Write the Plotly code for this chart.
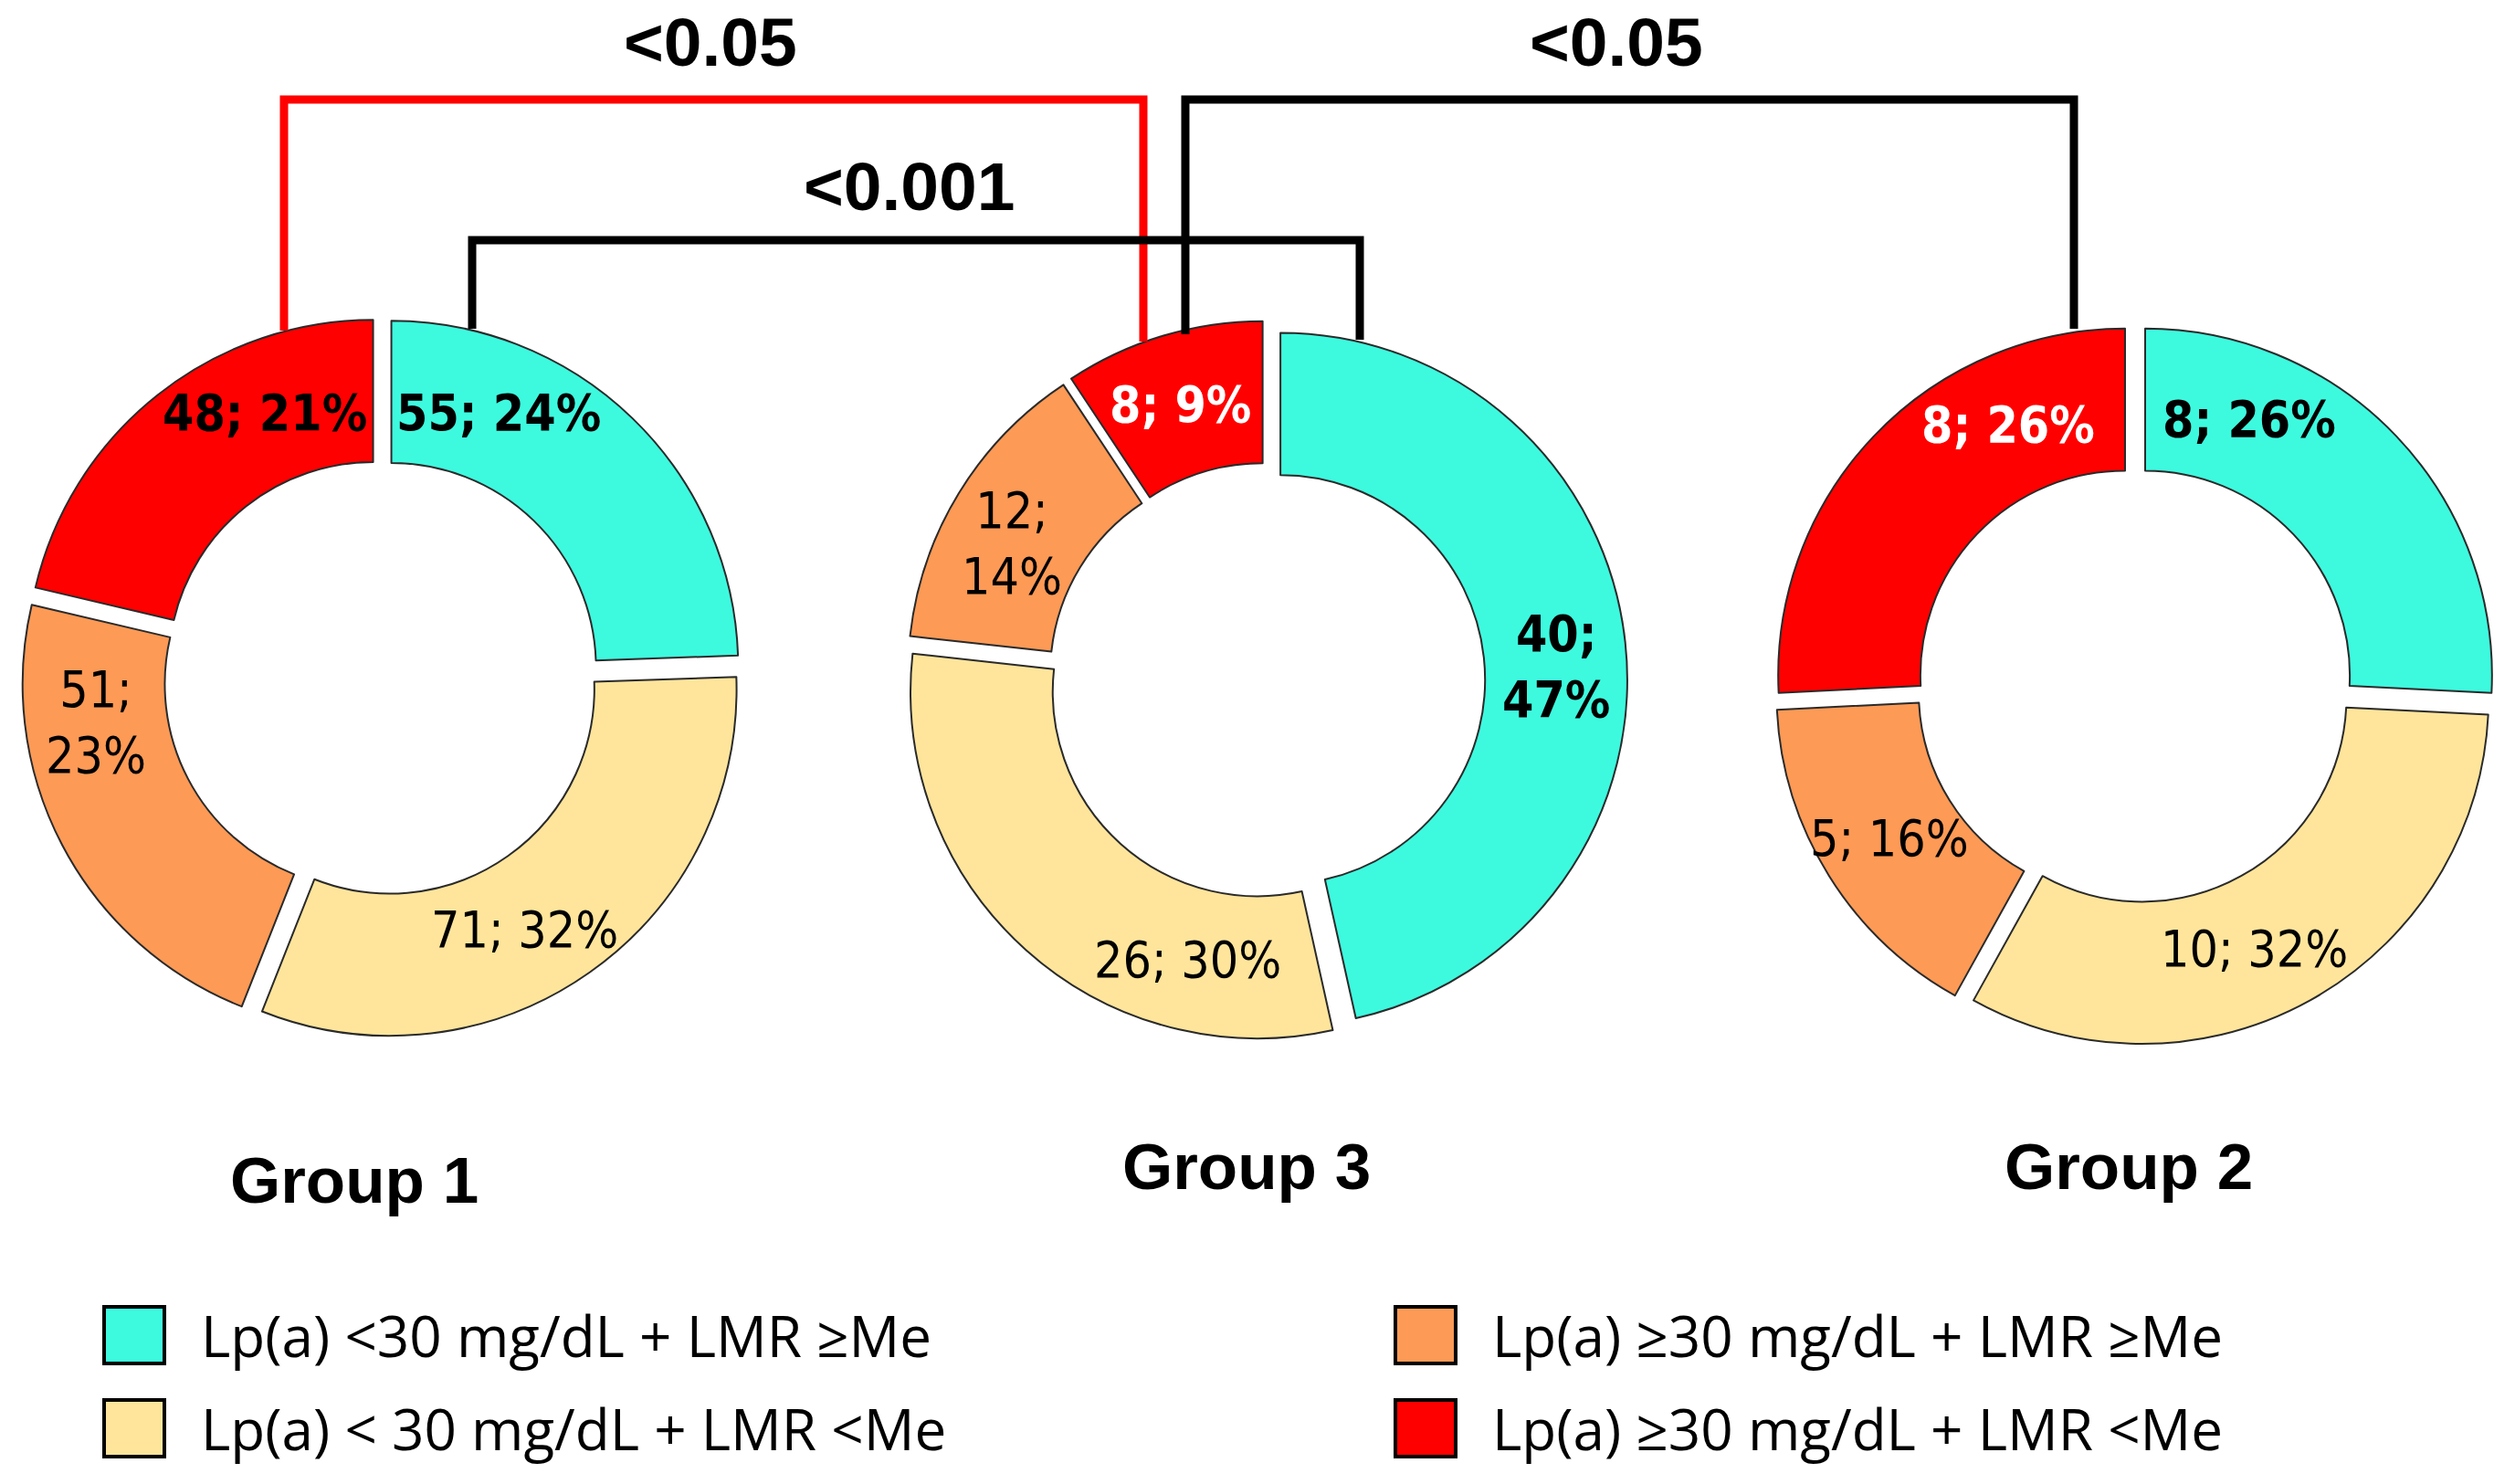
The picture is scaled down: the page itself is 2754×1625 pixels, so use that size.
import math
import plotly.graph_objects as go

# ---------------- data ----------------
categories = [
    "Lp(a) &lt;30 mg/dL + LMR ≥Me",
    "Lp(a) &lt; 30 mg/dL + LMR &lt;Me",
    "Lp(a) ≥30 mg/dL + LMR ≥Me",
    "Lp(a) ≥30 mg/dL + LMR &lt;Me",
]
colors = ["#3DFADF", "#FFE59B", "#FD9A56", "#FF0000"]

group_names = ["Group 1", "Group 3", "Group 2"]
group1_values = [55, 71, 51, 48]
group3_values = [40, 26, 12, 8]
group2_values = [8, 10, 5, 8]

p_labels = ["&lt;0.05", "&lt;0.001", "&lt;0.05"]

# ---------------- label styling (per slice) ----------------
group1_bold = [True, False, False, True]
group3_bold = [True, False, False, True]
group2_bold = [True, False, False, True]
group1_break = [False, False, True, False]
group3_break = [True, False, True, False]
group2_break = [False, False, False, False]
group1_txtcol = ["black", "black", "black", "black"]
group3_txtcol = ["black", "black", "black", "white"]
group2_txtcol = ["black", "black", "black", "white"]
# where inside each slice (0 = start edge, 1 = end edge, clockwise) the label sits
group1_lblpos = [0.27, 0.55, 0.73, 0.69]
group3_lblpos = [0.52, 0.26, 0.44, 0.48]
group2_lblpos = [0.25, 0.54, 0.50, 0.72]

# ---------------- layout helpers ----------------
W, H = 2754, 1625
def X(px):
    return px / W
def Y(py):
    return 1 - py / H

centers = [(418, 742), (1387, 746), (2338, 750)]
half = 395
HOLE = 0.59
PULL = 0.04

LABEL_FONT = "DejaVu Sans Condensed, Liberation Sans Narrow, Arial Narrow, sans-serif"
BOLD_FONT = "Liberation Sans, Arial, sans-serif"
LEG_FONT = "Open Sans, sans-serif"

fig = go.Figure()
shapes = []
annotations = []

groups = [
    (group1_values, group1_bold, group1_break, group1_txtcol, group1_lblpos),
    (group3_values, group3_bold, group3_break, group3_txtcol, group3_lblpos),
    (group2_values, group2_bold, group2_break, group2_txtcol, group2_lblpos),
]
for (vals, bold, brk, tcol, lpos), (cx, cy), name in zip(groups, centers, group_names):
    fig.add_trace(go.Pie(
        labels=categories,
        values=vals,
        name=name,
        hole=HOLE,
        pull=PULL,
        sort=False,
        direction="clockwise",
        rotation=0,
        marker=dict(colors=colors, line=dict(color="#2a2a2a", width=2)),
        textinfo="none",
        domain=dict(x=[X(cx - half), X(cx + half)], y=[Y(cy + half), Y(cy - half)]),
        showlegend=False,
    ))
    # slice labels placed inside each slice, using the same geometry as the pie
    r = 2 * half / (2 + 2 * PULL)
    rad = r * (1 + HOLE) / 2 + PULL * r
    total = sum(vals)
    cum = 0
    for v, b, k, c, f in zip(vals, bold, brk, tcol, lpos):
        ang = 2 * math.pi * (cum + v * f) / total
        cum += v
        pct = round(100 * v / total)
        txt = f"{v};" + ("<br>" if k else " ") + f"{pct}%"
        if b:
            txt = "<b>" + txt + "</b>"
        annotations.append(dict(
            text=txt, x=X(cx + rad * math.sin(ang)), y=Y(cy - rad * math.cos(ang)),
            xref="paper", yref="paper", showarrow=False,
            xanchor="center", yanchor="middle",
            font=dict(family=LABEL_FONT, size=55, color=c)))

# significance brackets
brackets = [
    ([(311, 362), (311, 109), (1252, 109), (1252, 374)], "#FF0000"),
    ([(517, 360), (517, 263), (1489, 263), (1489, 372)], "black"),
    ([(1298, 366), (1298, 109), (2271, 109), (2271, 360)], "black"),
]
for pts, col in brackets:
    path = "M " + " L ".join(f"{X(x):.5f},{Y(y):.5f}" for x, y in pts)
    shapes.append(dict(type="path", xref="paper", yref="paper", path=path,
                       line=dict(color=col, width=9)))

p_pos = [(778, 46), (996, 204), (1770, 46)]
for txt, (x, y) in zip(p_labels, p_pos):
    annotations.append(dict(text="<b>" + txt + "</b>", x=X(x), y=Y(y), xref="paper", yref="paper",
                            showarrow=False, xanchor="center", yanchor="middle",
                            font=dict(family=BOLD_FONT, size=75, color="black")))

# group titles
title_pos = [(388, 1292), (1365, 1277), (2331, 1277)]
for name, (x, y) in zip(group_names, title_pos):
    annotations.append(dict(text="<b>" + name + "</b>", x=X(x), y=Y(y), xref="paper", yref="paper",
                            showarrow=False, xanchor="center", yanchor="middle",
                            font=dict(family=BOLD_FONT, size=71, color="black")))

# legend (2 x 2)
leg_pos = [(114, 1462), (114, 1564), (1528, 1462), (1528, 1564)]
for cat, col, (x, y) in zip(categories, colors, leg_pos):
    shapes.append(dict(type="rect", xref="paper", yref="paper",
                       x0=X(x), x1=X(x + 66), y0=Y(y + 31), y1=Y(y - 31),
                       fillcolor=col, line=dict(color="black", width=4)))
    annotations.append(dict(text=cat, x=X(x + 104), y=Y(y), xref="paper", yref="paper",
                            showarrow=False, xanchor="left", yanchor="middle",
                            font=dict(family=LEG_FONT, size=62, color="black")))

fig.update_layout(
    width=W, height=H,
    margin=dict(l=0, r=0, t=0, b=0),
    paper_bgcolor="white", plot_bgcolor="white",
    shapes=shapes, annotations=annotations,
    showlegend=False,
)

fig.write_html("out.html", config={"displayModeBar": False},
               post_script="document.body.style.margin='0';")
